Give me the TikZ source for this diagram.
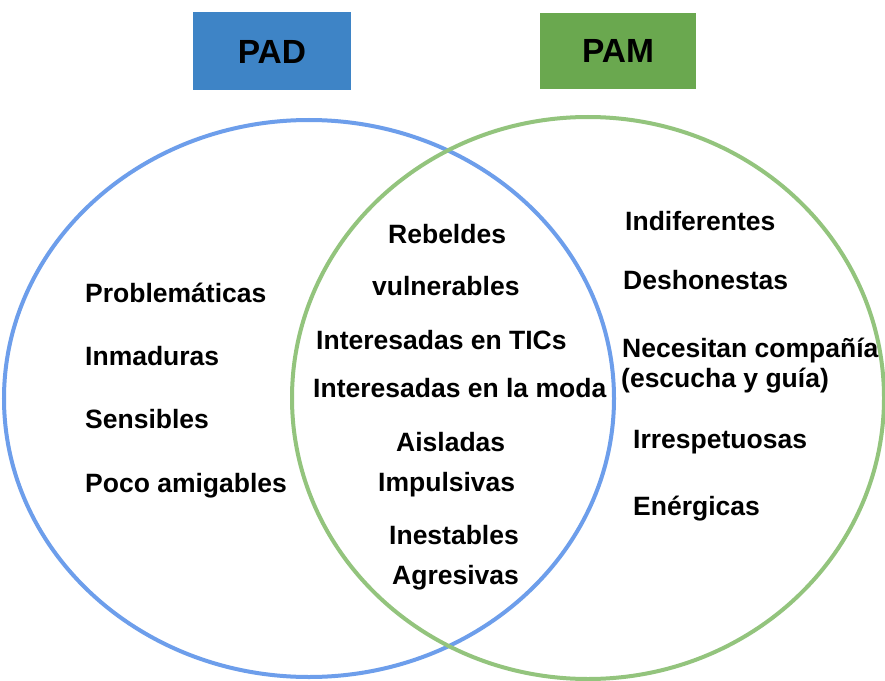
\documentclass[tikz,border=0pt]{standalone}
\usepackage{fontspec}
\setmainfont{Liberation Sans}
\definecolor{padfill}{HTML}{3E84C6}
\definecolor{pamfill}{HTML}{6AA84F}
\definecolor{padline}{HTML}{6D9EEB}
\definecolor{pamline}{HTML}{93C47D}
\tikzset{
  lbl/.style={anchor=base west, inner sep=0pt, font=\fontsize{26.5bp}{30bp}\selectfont\bfseries, text=black},
  ttl/.style={anchor=base, inner sep=0pt, font=\fontsize{33.5bp}{38bp}\selectfont\bfseries, text=black},
  ring/.style={line width=4bp}
}
\begin{document}
\begin{tikzpicture}[x=1bp,y=-1bp]
\useasboundingbox (0,0) rectangle (885,681);
\fill[white] (0,0) rectangle (885,681);
% title boxes
\fill[padfill] (193,12) rectangle (351,90);
\fill[pamfill] (540,13) rectangle (696,89);
\node[ttl] (pad) at (272,64) {PAD};
\node[ttl] (pam) at (618,63) {PAM};
% circles
\draw[ring, padline] (309,398.5) ellipse [x radius=305, y radius=278.5];
\draw[ring, pamline] (588,398) ellipse [x radius=296, y radius=281];
% left
\node[lbl] (l1) at (85,302) {Problemáticas};
\node[lbl] (l2) at (85,365) {Inmaduras};
\node[lbl] (l3) at (85,428) {Sensibles};
\node[lbl] (l4) at (85,492) {Poco amigables};
% middle
\node[lbl] (m1) at (388,243) {Rebeldes};
\node[lbl] (m2) at (372,295) {vulnerables};
\node[lbl] (m3) at (316,349) {Interesadas en TICs};
\node[lbl] (m4) at (313,397) {Interesadas en la moda};
\node[lbl] (m5) at (396,451) {Aisladas};
\node[lbl] (m6) at (378,491) {Impulsivas};
\node[lbl] (m7) at (389,544) {Inestables};
\node[lbl] (m8) at (392,584) {Agresivas};
% right
\node[lbl] (r1) at (625,230) {Indiferentes};
\node[lbl] (r2) at (623,289) {Deshonestas};
\node[lbl] (r3) at (622,357) {Necesitan compañía};
\node[lbl] (r4) at (621,387) {(escucha y guía)};
\node[lbl] (r5) at (633,448) {Irrespetuosas};
\node[lbl] (r6) at (633,515) {Enérgicas};
\end{tikzpicture}
\end{document}
